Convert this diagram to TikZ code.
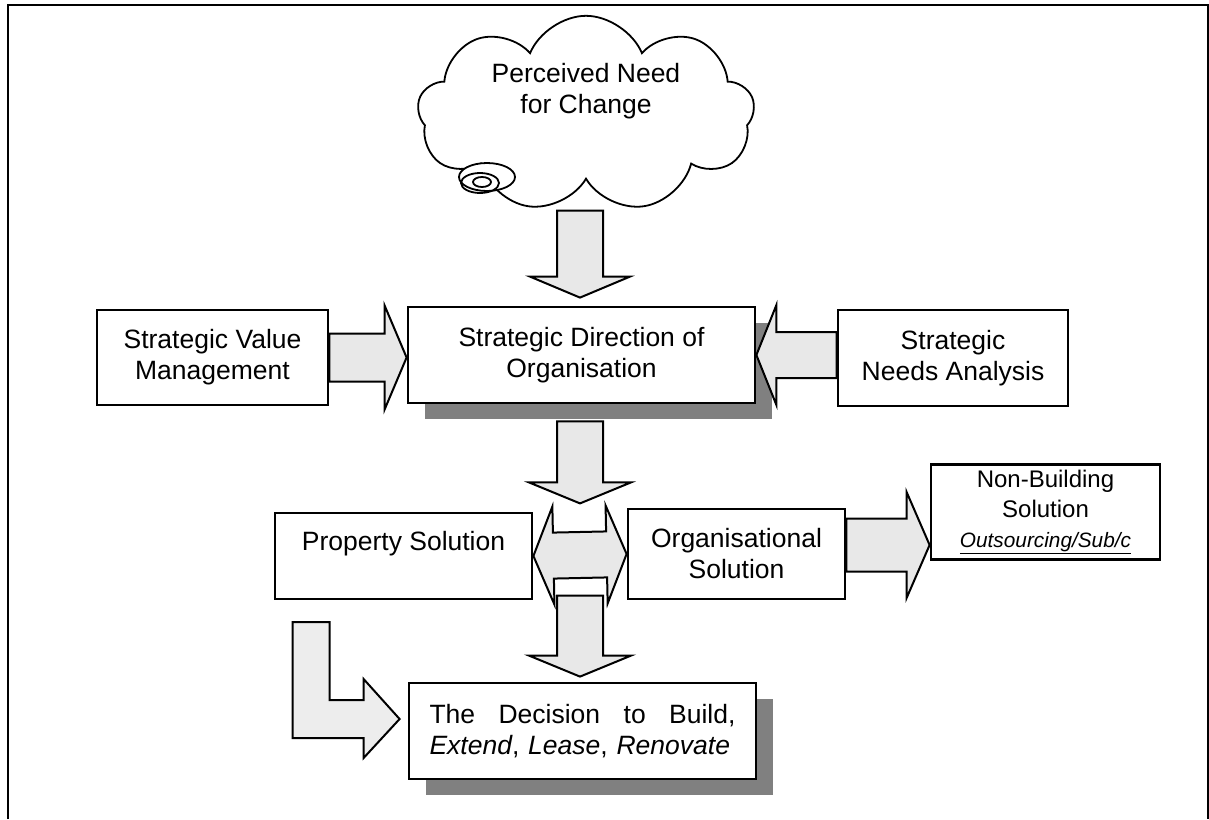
\documentclass[tikz,border=0pt]{standalone}
\usepackage{fontspec}
\setmainfont{Liberation Sans}
\usetikzlibrary{calc, shapes.symbols, shadows}

\newcommand{\bigfont}{\fontsize{26.5}{31}\selectfont}
\newcommand{\midfont}{\fontsize{24}{30}\selectfont}

% fat arrow: start, tip, half shaft, half head, head length
\newcommand{\blockarrow}[5]{%
  \coordinate (ba-s) at (#1);
  \coordinate (ba-e) at (#2);
  \coordinate (ba-h) at ($(ba-e)!#5!(ba-s)$);
  \draw[fatarrow] ($(ba-s)!#3!90:(ba-e)$) -- ($(ba-h)!#3!-90:(ba-s)$)
    -- ($(ba-h)!#4!-90:(ba-s)$) -- (ba-e) -- ($(ba-h)!#4!90:(ba-s)$)
    -- ($(ba-h)!#3!90:(ba-s)$) -- ($(ba-s)!#3!-90:(ba-e)$) -- cycle;}

% fat arrow with a head at each end
\newcommand{\doublearrow}[5]{%
  \coordinate (da-l) at (#1);
  \coordinate (da-r) at (#2);
  \coordinate (da-h1) at ($(da-l)!#5!(da-r)$);
  \coordinate (da-h2) at ($(da-r)!#5!(da-l)$);
  \draw[fatarrow] (da-l) -- ($(da-h1)!#4!90:(da-r)$) -- ($(da-h1)!#3!90:(da-r)$)
    -- ($(da-h2)!#3!-90:(da-l)$) -- ($(da-h2)!#4!-90:(da-l)$) -- (da-r)
    -- ($(da-h2)!#4!90:(da-l)$) -- ($(da-h2)!#3!90:(da-l)$)
    -- ($(da-h1)!#3!-90:(da-r)$) -- ($(da-h1)!#4!-90:(da-r)$) -- cycle;}

\begin{document}
\begin{tikzpicture}[
  x=1pt, y=1pt,
  box/.style={draw, fill=white, line width=2.8pt, align=center, inner sep=0pt, font=\bigfont},
  shadowed/.style={drop shadow={shadow xshift=17pt, shadow yshift=-16pt, opacity=1, fill=black!50}},
  fatarrow/.style={draw, fill=black!9, line width=2pt},
  thought/.style={cloud, cloud puffs=9, cloud puff arc=135, aspect=1.85, draw, line width=1.8pt,
    inner sep=0pt, minimum width=337pt, minimum height=182pt, align=center, font=\bigfont}
]
  \useasboundingbox (0,0) rectangle (1209,-819);
  \draw[line width=2.2pt] (8,-819) |- (1208,-5) -- (1208,-819);

  \node[thought] (need) at (586,-114) {Perceived Need\\for Change\\[20pt]\mbox{}};
  \draw[line width=1.8pt, fill=white] ($(need.center)+(-99,-63)$) ellipse [x radius=28, y radius=14];
  \draw[line width=1.8pt] ($(need.center)+(-106,-69)$) ellipse [x radius=19, y radius=10];
  \draw[line width=1.8pt] ($(need.center)+(-104,-68)$) ellipse [x radius=9, y radius=5];

  \node[box, minimum width=231pt, minimum height=95pt] (svm) at (212.5,-357.5) {Strategic Value\\Management};
  \node[box, shadowed, minimum width=347pt, minimum height=96pt] (dir) at (581.5,-355) {Strategic Direction of\\Organisation};
  \node[box, minimum width=230pt, minimum height=96pt] (sna) at (953,-358) {Strategic\\Needs Analysis};

  \node[box, minimum width=257pt, minimum height=86pt] (prop) at (403.5,-556) {Property Solution\\\mbox{}};
  \node[box, minimum width=217pt, minimum height=90pt] (org) at (736.5,-554) {Organisational\\Solution};
  \node[box, minimum width=229pt, minimum height=95pt, font=\midfont] (nonb) at (1045.5,-512)
    {Non-Building\\Solution\\{\fontsize{20.8}{25}\selectfont\itshape\underline{Outsourcing/Sub/c}}};

  \node[box, shadowed, minimum width=347pt, minimum height=96pt, text width=306pt, align=left] (dec) at (582.5,-731)
    {The\hfill Decision\hfill to\hfill Build,\\\textit{Extend}, \textit{Lease}, \textit{Renovate}};

  % arrows between the boxes
  \blockarrow{$(dir.north)+(-1.5,95)$}{$(dir.north)+(-1.5,8)$}{23pt}{50pt}{21pt}
  \blockarrow{svm.east}{svm.east -| dir.west}{24pt}{52pt}{22pt}
  \blockarrow{dir.east -| sna.west}{dir.east}{23pt}{50pt}{20pt}
  \blockarrow{$(dir.south)+(-1.5,-17)$}{$(dir.south)+(-1.5,-99)$}{23pt}{51pt}{21pt}
  \doublearrow{prop.east}{org.west}{23pt}{49pt}{20pt}
  \blockarrow{$(dec.north)+(-2.5,86)$}{$(dec.north)+(-2.5,5)$}{23pt}{51pt}{21pt}
  \coordinate (orgout) at ($(org.east)+(0,9)$);
  \blockarrow{orgout}{orgout -| nonb.west}{26.5pt}{53pt}{23pt}

  % bent arrow down from the property box
  \draw[fatarrow, fill=black!7] ($(dec.west)+(-8,12)$) -- ++(-36,40) -- ++(0,-21) -- ++(-34,0)
    -- ++(0,78) -- ++(-37,0) -- ++(0,-116) -- ++(71,0) -- ++(0,-20) -- cycle;
\end{tikzpicture}
\end{document}
